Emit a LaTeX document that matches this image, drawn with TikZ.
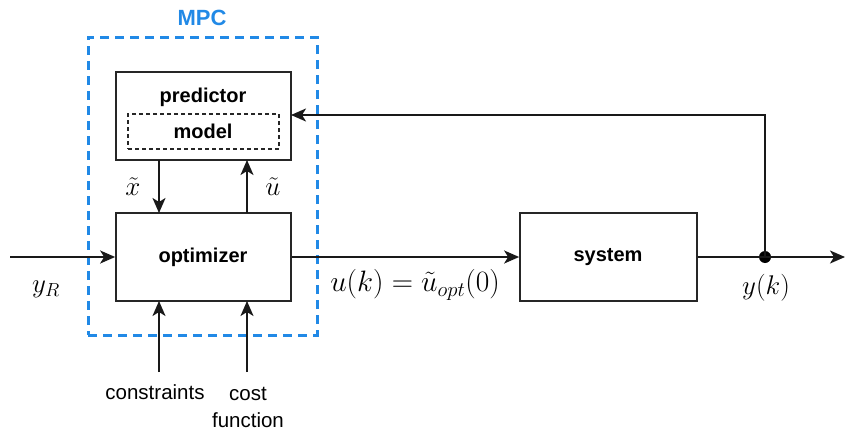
\RequirePackage{fix-cm}
\documentclass[tikz,border=0pt]{standalone}
\usepackage{fontspec}
\newfontfamily\labfont{Liberation Sans}
\usetikzlibrary{arrows.meta}
\definecolor{mpcblue}{RGB}{33,137,230}
\tikzset{
  blk/.style={draw=black!85, line width=1.7pt, fill=white},
  modelbox/.style={draw=black!85, line width=1.3pt, dash pattern=on 4pt off 3pt},
  boldlab/.style={font=\labfont\fontsize{20}{23}\selectfont\bfseries, inner sep=0pt},
  plainlab/.style={font=\labfont\fontsize{20.5}{24}\selectfont, inner sep=0pt, align=center},
  mathlab/.style={font=\fontsize{27}{30}\selectfont, inner sep=0pt},
  sig/.style={line width=1.9pt, draw=black!90, -{Stealth[length=15pt, width=13pt, inset=4pt]}},
  line/.style={line width=1.9pt, draw=black!90},
  mpcframe/.style={draw=mpcblue, line width=3pt, dash pattern=on 9pt off 6pt}
}
\begin{document}
\begin{tikzpicture}[x=1pt, y=-1pt]
\useasboundingbox (0,0) rectangle (845,431);
% MPC frame
\node[mpcframe, minimum width=229pt, minimum height=298pt, inner sep=0pt] (mpc) at (202.5,186) {};
\node[font=\labfont\fontsize{22}{25}\selectfont\bfseries, text=mpcblue, inner sep=0pt] (mpctxt) at (202,18) {MPC};
% blocks
\node[blk, minimum width=175pt, minimum height=88pt, inner sep=0pt] (pred) at (203.5,116) {};
\node[boldlab] (predtxt) at (203,97) {predictor};
\node[modelbox, minimum width=151pt, minimum height=35pt, inner sep=0pt] (model) at (203.5,131.5) {};
\node[boldlab] (modeltxt) at (203,131) {model};
\node[blk, minimum width=175pt, minimum height=88pt, inner sep=0pt] (opt) at (203.5,257) {};
\node[boldlab] (opttxt) at (203,257) {optimizer};
\node[blk, minimum width=177pt, minimum height=88pt, inner sep=0pt] (sys) at (608.5,257) {};
\node[boldlab] (systxt) at (608,257) {system};
% coordinates
\coordinate (xtop) at (159,160);
\coordinate (xbot) at (159,213);
\coordinate (utop) at (247,160);
\coordinate (ubot) at (247,213);
\coordinate (yin) at (10,257);
\coordinate (cin) at (159,372);
\coordinate (cbot) at (159,301);
\coordinate (fin) at (247,372);
\coordinate (fbot) at (247,301);
\coordinate (out) at (845,257);
\coordinate (corner) at (765,115);
\coordinate (predin) at (291,115);
\node[circle, fill=black, inner sep=0pt, minimum size=12pt] (dot) at (765,257) {};
% connectors
\draw[sig] (xtop) -- (xbot);
\draw[sig] (ubot) -- (utop);
\draw[sig] (yin) -- (opt.west);
\draw[sig] (cin) -- (cbot);
\draw[sig] (fin) -- (fbot);
\draw[sig] (opt.east) -- (sys.west);
\draw[line] (sys.east) -- (dot.center);
\draw[sig] (dot.center) -- (out);
\draw[sig] (dot.center) -- (corner) -- (predin);
% labels
\node[mathlab] (xl) at (133,187) {$\tilde{x}$};
\node[mathlab] (ul) at (273,187) {$\tilde{u}$};
\node[mathlab] (yrl) at (46,289) {$y_R$};
\node[mathlab, font=\fontsize{29.5}{33}\selectfont] (ukl) at (415,285) {$u(k) = \tilde{u}_{opt}(0)$};
\node[mathlab] (ykl) at (766,288) {$y(k)$};
\node[plainlab] (cl) at (155,392) {constraints};
\node[plainlab] (costl) at (248,394) {cost};
\node[plainlab] (funl) at (248,420) {function};
\end{tikzpicture}
\end{document}
